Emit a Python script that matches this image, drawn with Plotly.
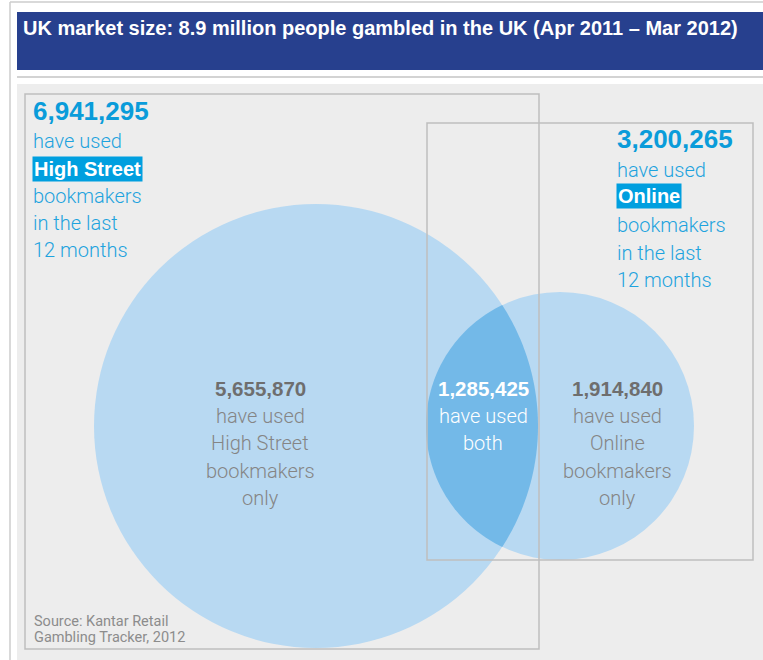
import numpy as np
import plotly.graph_objects as go

# ---------------- data ----------------
title_text = "UK market size: 8.9 million people gambled in the UK (Apr 2011 – Mar 2012)"
channel_names = ["High Street", "Online"]
channel_totals = [6941295, 3200265]
segment_keys = ["High Street only", "both", "Online only"]
segment_values = [5655870, 1285425, 1914840]
segment_lines = [["have used", "High Street", "bookmakers", "only"],
                 ["have used", "both"],
                 ["have used", "Online", "bookmakers", "only"]]
total_lines_before = ["have used"]
total_lines_after = ["bookmakers", "in the last", "12 months"]
source_lines = ["Source: Kantar Retail", "Gambling Tracker, 2012"]

# ---------------- layout constants (pixels) ----------------
W, H = 763, 660
BLUE_TXT = "#1EA3DE"
BLUE_NUM = "#0A9CDA"
BLUE_BOX = "#009FDF"
GREY_NUM = "#6E6E6E"
GREY_TXT = "#858585"
CIRCLE = "#B8D9F2"
LENS = "#73B9E8"
RECT_LINE = "#BEBEBE"
LIGHT = "Roboto, Liberation Sans, Arial, sans-serif"
BOLD = "Liberation Sans, Arial, sans-serif"

big = dict(cx=316, cy=426, r=222)
small = dict(cx=560, cy=426, r=134)

fig = go.Figure()
fig.add_trace(go.Scatter(x=[0], y=[0], mode="markers", marker=dict(opacity=0), hoverinfo="skip", showlegend=False))

shapes = []
# outer frame lines
shapes.append(dict(type="line", x0=10, x1=W, y0=2, y1=2, line=dict(color="#CCCCCC", width=1.5)))
shapes.append(dict(type="line", x0=10, x1=10, y0=2, y1=H, line=dict(color="#CCCCCC", width=1.5)))
# title bar
shapes.append(dict(type="rect", x0=17, x1=W, y0=12, y1=70, fillcolor="#27408E", line=dict(width=0)))
shapes.append(dict(type="line", x0=17, x1=W, y0=77, y1=77, line=dict(color="#C4C4C4", width=1.5)))
# panel
shapes.append(dict(type="rect", x0=17, x1=W + 2, y0=84, y1=H + 2, fillcolor="#EDEDED", line=dict(width=0)))

# circles
for c in (big, small):
    shapes.append(dict(type="circle", x0=c["cx"] - c["r"], x1=c["cx"] + c["r"],
                       y0=c["cy"] - c["r"], y1=c["cy"] + c["r"],
                       fillcolor=CIRCLE, line=dict(width=0)))

# lens (intersection) computed from the two circles
d = small["cx"] - big["cx"]
a = (d**2 + big["r"]**2 - small["r"]**2) / (2 * d)
hh = np.sqrt(big["r"]**2 - a**2)
ang_big = np.arctan2(hh, a)
ang_small = np.arctan2(hh, a - d)
t1 = np.linspace(-ang_big, ang_big, 80)
p1 = [(big["cx"] + big["r"] * np.cos(t), big["cy"] + big["r"] * np.sin(t)) for t in t1]
t2 = np.linspace(ang_small, 2 * np.pi - ang_small, 80)
p2 = [(small["cx"] + small["r"] * np.cos(t), small["cy"] + small["r"] * np.sin(t)) for t in t2]
pts = p1 + p2
path = "M " + " L ".join(f"{x:.2f},{y:.2f}" for x, y in pts) + " Z"
shapes.append(dict(type="path", path=path, fillcolor=LENS, line=dict(width=0)))

# frames
shapes.append(dict(type="rect", x0=25, x1=539, y0=94, y1=649, line=dict(color=RECT_LINE, width=1.5)))
shapes.append(dict(type="rect", x0=427, x1=753, y0=123, y1=560, line=dict(color=RECT_LINE, width=1.5)))

ann = []
def txt(x, y, s, size, color, family, anchor="left", weight="normal", **kw):
    ann.append(dict(x=x, y=y, xref="x", yref="y", text=s, showarrow=False,
                    xanchor=anchor, yanchor="middle",
                    font=dict(size=size, color=color, family=family, weight=weight), **kw))

# title
txt(21, 28, title_text, 20, "white", "Liberation Sans Narrow, Liberation Sans, Arial", weight="bold")

# channel totals
tot_pos = [(31, 111, [141, 169, 196, 223, 250]), (615, 139, [170, 196, 225, 253, 280])]
for name, total, (x, ynum, ys) in zip(channel_names, channel_totals, tot_pos):
    txt(x, ynum, f"{total:,}", 26, BLUE_NUM, BOLD, weight="bold")
    lines = total_lines_before + [name] + total_lines_after
    for i, (ln, yy) in enumerate(zip(lines, ys)):
        if ln == name:
            txt(x + 1, yy, f"<b>{ln}</b>", 20, "white", BOLD, bgcolor=BLUE_BOX, borderpad=1)
        else:
            txt(x, yy, ln, 20, BLUE_TXT, LIGHT, weight=300)

# segments
seg_x = [260, 483, 617]
seg_num_col = [GREY_NUM, "white", GREY_NUM]
seg_txt_col = [GREY_TXT, "white", GREY_TXT]
for v, lines, x, cn, ct in zip(segment_values, segment_lines, seg_x, seg_num_col, seg_txt_col):
    txt(x, 388, f"{v:,}", 20.5, cn, BOLD, anchor="center", weight="bold")
    for i, ln in enumerate(lines):
        txt(x, 416 + i * 27.3, ln, 20, ct, LIGHT, anchor="center", weight=300)

# source
for i, ln in enumerate(source_lines):
    txt(32, 621 + i * 16, ln, 14.5, "#8C8C8C", LIGHT, weight=400)

fig.update_layout(
    width=W, height=H, autosize=False,
    margin=dict(l=0, r=0, t=0, b=0, pad=0),
    paper_bgcolor="white", plot_bgcolor="white",
    xaxis=dict(range=[0, W], visible=False, fixedrange=True),
    yaxis=dict(range=[H, 0], visible=False, fixedrange=True),
    shapes=shapes, annotations=ann, showlegend=False,
)
fig.write_html("out.html", config={"displayModeBar": False})
